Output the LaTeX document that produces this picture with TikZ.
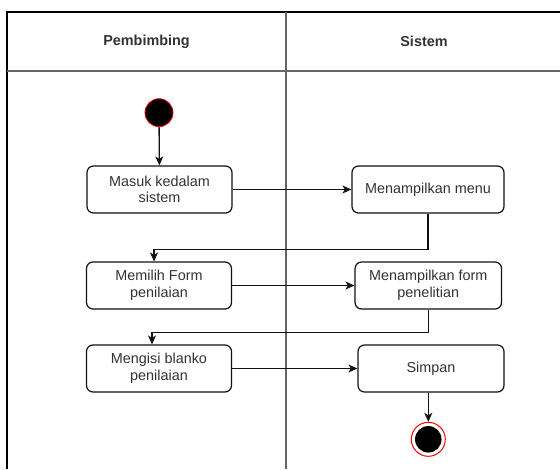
\documentclass[tikz,border=0pt]{standalone}
\usepackage{fontspec}
\setmainfont{Liberation Sans}
\usetikzlibrary{arrows.meta,positioning}
\definecolor{lanegray}{HTML}{666666}
\definecolor{txt}{HTML}{333333}
\definecolor{edge}{HTML}{111111}
\begin{document}
\begin{tikzpicture}[x=1pt,y=-1pt,
  lane/.style={line width=1.3pt,draw=lanegray},
  act/.style={draw=edge,line width=1.2pt,rounded corners=6.5pt,fill=white,
    minimum height=47pt,align=center,text=txt,
    font=\fontsize{14.4}{16.6}\selectfont,inner sep=0pt},
  hdr/.style={text=txt,font=\fontsize{14.4}{16.6}\selectfont\bfseries},
  flow/.style={draw=edge,line width=1.3pt,-{Stealth[length=9pt,width=8pt,inset=2.5pt]}},
  startst/.style={circle,fill=black,draw=red,line width=0.8pt,minimum size=28pt,inner sep=0pt},
]
\useasboundingbox (0,0) rectangle (560,469);
\fill[white] (0,0) rectangle (560,469);

% swimlane frame
\draw[line width=1.3pt,black] (7,469) -- (7,12) -- (565,12);
\draw[lane] (7,71) -- (565,71);
\draw[lane] (286,12) -- (286,469);
\node[hdr] (lanePembimbing) at (146.5,41.5) {Pembimbing};
\node[hdr] (laneSistem) at (424,41.5) {Sistem};

% initial state
\node[startst] (start) at (159,112.7) {};

% activities
\node[act,minimum width=145pt] (masuk) at (159.5,189.5) {Masuk kedalam\\sistem};
\node[act,minimum width=152pt] (menu) at (428,189.5) {Menampilkan menu};
\node[act,minimum width=145pt] (pilih) at (159,285.5) {Memilih Form\\penilaian};
\node[act,minimum width=146.5pt] (form) at (428.3,285.5) {Menampilkan form\\penelitian};
\node[act,minimum width=145pt] (isi) at (159,368.5) {Mengisi blanko\\penilaian};
\node[act,minimum width=146pt] (simpan) at (431,368.5) {Simpan};

% final state
\node[circle,draw=red,line width=1pt,fill=white,minimum size=34pt,inner sep=0pt] (final) at (428.3,439.3) {};
\node[circle,fill=black,minimum size=26.5pt,inner sep=0pt] (finalcore) at (final.center) {};

% control flow
\draw[flow] (start) -- (masuk);
\draw[flow] (masuk.east) -- (menu.west);
\draw[flow] (menu.south) -- ++(0,36) -| ([xshift=-5pt]pilih.north);
\draw[flow] (pilih.east) -- (form.west);
\draw[flow] (form.south) -- ++(0,22.7) -| ([xshift=-7pt]isi.north);
\draw[flow] (isi.east) -- (simpan.west);
\draw[flow] ([xshift=-2.7pt]simpan.south) -- (final.north);
\end{tikzpicture}
\end{document}
